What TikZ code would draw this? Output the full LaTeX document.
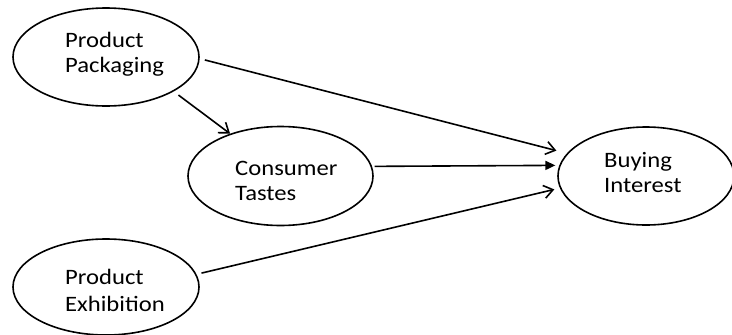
\documentclass[tikz,border=0pt]{standalone}
\usepackage{fontspec}
\setmainfont{Carlito}[FakeStretch=1.12]
\usetikzlibrary{shapes.geometric,arrows.meta}
\begin{document}
\begin{tikzpicture}[x=1pt,y=-1pt,
  oval/.style={draw, ellipse, line width=1.6pt, inner sep=0pt},
  lbl/.style={anchor=base west, align=left, inner sep=0pt, font=\fontsize{22}{25}\selectfont},
  link/.style={line width=1.6pt, -{Straight Barb[length=9pt,width=13pt,line width=1.6pt]}},
  flink/.style={line width=1.6pt, -{Triangle[length=10pt,width=9pt]}}]
\useasboundingbox[fill=white] (0,0) rectangle (732,335);
\node[oval, minimum width=186pt, minimum height=98pt] (pp) at (106,57) {};
\node[oval, minimum width=185pt, minimum height=99pt] (ct) at (280.5,176) {};
\node[oval, minimum width=186pt, minimum height=96pt] (pe) at (106,287) {};
\node[oval, minimum width=176pt, minimum height=98pt] (bi) at (646,176) {};
\node[lbl] (ppt) at (65,72) {Product\\Packaging};
\node[lbl] (ctt) at (235,200) {Consumer\\Tastes};
\node[lbl] (pet) at (65,311) {Product\\[2pt]Exhibition};
\node[lbl] (bit) at (604,192) {Buying\\Interest};
\draw[link, shorten <=5.3pt, shorten >=10.9pt] (pp.-1.66) -- (bi.164.1);
\draw[link, shorten <=6pt] (pp.-27.56) -- (ct.140.1);
\draw[flink, shorten <=2.6pt, shorten >=3.9pt] (ct.6.2) -- (bi.173.4);
\draw[link, shorten <=5.1pt, shorten >=5.7pt] (pe.8.84) -- (bi.-172.2);
\end{tikzpicture}
\end{document}
